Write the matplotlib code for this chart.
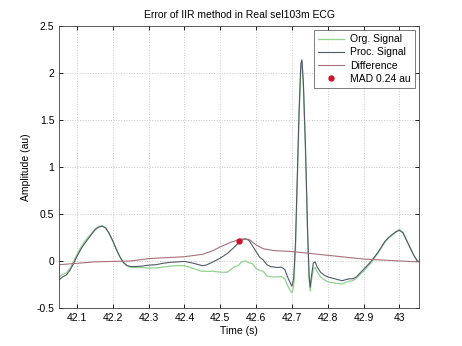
import matplotlib
matplotlib.use('Agg')
import matplotlib.pyplot as plt

plt.rcParams['font.family'] = ['Liberation Sans', 'DejaVu Sans']

# ECG segment sel103m
t = [42.050, 42.060, 42.070, 42.080, 42.090, 42.100, 42.110, 42.120, 42.130, 42.140,
     42.150, 42.160, 42.170, 42.180, 42.190, 42.200, 42.210, 42.220, 42.230, 42.240,
     42.250, 42.260, 42.280, 42.300, 42.320, 42.340, 42.360, 42.380, 42.400, 42.420,
     42.440, 42.450, 42.460, 42.480, 42.500, 42.520, 42.540, 42.550, 42.560, 42.570,
     42.580, 42.590, 42.600, 42.610, 42.620, 42.630, 42.640, 42.660, 42.670, 42.680,
     42.690, 42.700, 42.705, 42.710, 42.715, 42.720, 42.725, 42.728, 42.732, 42.738,
     42.744, 42.748, 42.751, 42.755, 42.760, 42.765, 42.770, 42.780, 42.790, 42.800,
     42.810, 42.820, 42.830, 42.840, 42.850, 42.860, 42.870, 42.880, 42.890, 42.900,
     42.910, 42.920, 42.930, 42.940, 42.950, 42.960, 42.970, 42.980, 42.990, 43.000,
     43.010, 43.020, 43.030, 43.040, 43.050, 43.055]

org = [-0.17, -0.14, -0.13, -0.08, -0.01, 0.07, 0.14, 0.20, 0.25, 0.29,
       0.34, 0.365, 0.375, 0.355, 0.295, 0.215, 0.125, 0.045, -0.02, -0.05,
       -0.065, -0.07, -0.07, -0.075, -0.075, -0.065, -0.055, -0.05, -0.05, -0.075,
       -0.10, -0.11, -0.11, -0.11, -0.12, -0.12, -0.06, -0.05, -0.01, 0.00,
       -0.02, -0.03, -0.08, -0.10, -0.11, -0.16, -0.17, -0.17, -0.165, -0.19,
       -0.28, -0.34, -0.27, 0.12, 0.82, 1.52, 2.05, 2.12, 1.86, 1.15,
       0.25, -0.20, -0.32, -0.20, -0.08, -0.07, -0.11, -0.17, -0.20, -0.22,
       -0.23, -0.235, -0.24, -0.245, -0.23, -0.215, -0.21, -0.185, -0.145, -0.11,
       -0.065, -0.025, 0.03, 0.08, 0.14, 0.20, 0.245, 0.275, 0.305, 0.335,
       0.305, 0.225, 0.145, 0.065, 0.005, -0.005]

proc = [-0.20, -0.17, -0.15, -0.10, -0.03, 0.05, 0.12, 0.18, 0.23, 0.28,
        0.33, 0.36, 0.37, 0.35, 0.29, 0.21, 0.12, 0.04, -0.02, -0.05,
        -0.06, -0.06, -0.055, -0.045, -0.04, -0.025, -0.015, -0.01, -0.005, -0.02,
        -0.04, -0.05, -0.045, -0.01, 0.03, 0.08, 0.15, 0.19, 0.22, 0.235,
        0.22, 0.16, 0.10, 0.04, 0.01, -0.04, -0.06, -0.07, -0.065, -0.09,
        -0.19, -0.27, -0.19, 0.20, 0.90, 1.60, 2.10, 2.14, 1.90, 1.20,
        0.30, -0.15, -0.28, -0.15, -0.02, -0.01, -0.06, -0.12, -0.15, -0.17,
        -0.18, -0.19, -0.20, -0.21, -0.20, -0.19, -0.19, -0.17, -0.13, -0.09,
        -0.05, -0.01, 0.04, 0.09, 0.15, 0.21, 0.25, 0.28, 0.31, 0.325,
        0.30, 0.22, 0.14, 0.06, 0.00, -0.01]

t_diff = [42.05, 42.10, 42.15, 42.20, 42.25, 42.30, 42.35, 42.40, 42.45, 42.48,
          42.50, 42.53, 42.56, 42.58, 42.60, 42.62, 42.65, 42.70, 42.75, 42.80,
          42.85, 42.90, 42.95, 43.00, 43.055]
diff = [-0.04, -0.025, -0.01, -0.005, 0.0, 0.025, 0.035, 0.045, 0.07, 0.11,
        0.15, 0.20, 0.235, 0.23, 0.17, 0.13, 0.11, 0.10, 0.08, 0.06,
        0.04, 0.02, 0.01, 0.00, -0.01]

mad_t = 42.553
mad_val = 0.21
mad_label = 'MAD 0.24 au'

fig = plt.figure(figsize=(4.62, 3.46), dpi=100)
ax = fig.add_axes([0.128, 0.110, 0.779, 0.815])

ax.plot(t, org, color='#8fd48f', lw=0.9, label='Org. Signal')
ax.plot(t, proc, color='#505a68', lw=0.8, label='Proc. Signal')
ax.plot(t_diff, diff, color='#a8707c', lw=0.8, label='Difference')
ax.plot([mad_t], [mad_val], 'o', color='#d0102a', ms=3.5, label=mad_label)

ax.set_xlim(42.05, 43.055)
ax.set_ylim(-0.5, 2.5)
ax.set_xticks([42.1, 42.2, 42.3, 42.4, 42.5, 42.6, 42.7, 42.8, 42.9, 43.0])
ax.set_xticklabels(['42.1', '42.2', '42.3', '42.4', '42.5', '42.6', '42.7', '42.8', '42.9', '43'])
ax.set_yticks([-0.5, 0, 0.5, 1, 1.5, 2, 2.5])
ax.set_yticklabels(['-0.5', '0', '0.5', '1', '1.5', '2', '2.5'])
ax.tick_params(direction='in', length=3, labelsize=7.5, top=True, right=True, width=0.6)
ax.grid(color='#c8c8c8', linestyle=':', linewidth=0.7)
for s in ax.spines.values():
    s.set_linewidth(0.6)
    s.set_color('#404040')

ax.set_title('Error of IIR method in Real sel103m ECG', fontsize=7.5, pad=6)
ax.set_xlabel('Time (s)', fontsize=7.5, labelpad=2)
ax.set_ylabel('Amplitude (au)', fontsize=7.5, labelpad=4)

leg = ax.legend(loc='upper right', fontsize=7.5, frameon=True, fancybox=False,
                borderaxespad=0.4, handlelength=2.5, labelspacing=0.3,
                borderpad=0.4, handletextpad=0.6)
leg.get_frame().set_edgecolor('#404040')
leg.get_frame().set_linewidth(0.6)

fig.savefig('out.png', dpi=100)
